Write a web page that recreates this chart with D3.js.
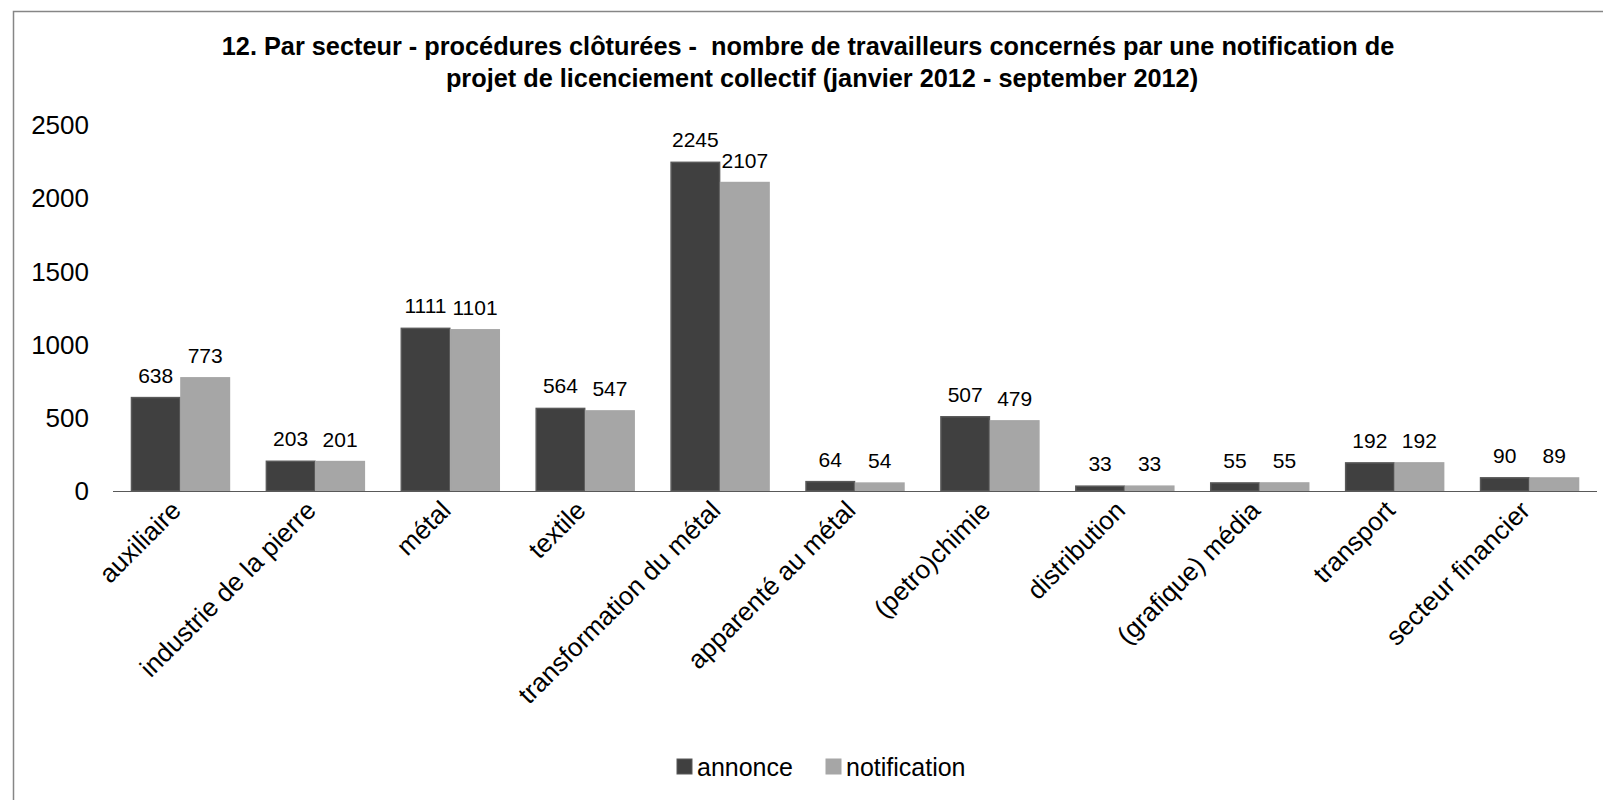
<!DOCTYPE html>
<html>
<head>
<meta charset="utf-8">
<script src="https://cdn.jsdelivr.net/npm/d3@7"></script>
<style>
  body { margin: 0; background: #fff; }
  svg { display: block; font-family: "Liberation Sans", Arial, sans-serif; }
</style>
</head>
<body>
<svg width="1603" height="800"></svg>
<script>
var categories = ["auxiliaire", "industrie de la pierre", "métal", "textile", "transformation du métal",
                  "apparenté au métal", "(petro)chimie", "distribution", "(grafique) média", "transport",
                  "secteur financier"];
var annonce = [638, 203, 1111, 564, 2245, 64, 507, 33, 55, 192, 90];
var notification = [773, 201, 1101, 547, 2107, 54, 479, 33, 55, 192, 89];
var seriesNames = ["annonce", "notification"];
var yTicks = [0, 500, 1000, 1500, 2000, 2500];
var titleLines = ["12. Par secteur - procédures clôturées -  nombre de travailleurs concernés par une notification de",
                  "projet de licenciement collectif (janvier 2012 - september 2012)"];

var colors = {annonce: "#404040", notification: "#a6a6a6"};
var strokes = {annonce: "#595959", notification: "#a6a6a6"};

var svg = d3.select("svg");

// outer frame (right and bottom edges fall off the picture)
svg.append("rect")
    .attr("x", 13.5).attr("y", 11.5)
    .attr("width", 1620).attr("height", 820)
    .attr("fill", "none").attr("stroke", "#868686").attr("stroke-width", 1.5);

var x0 = d3.scaleBand().domain(categories).range([113, 1597]).paddingInner(0).paddingOuter(0);
var x1 = d3.scaleBand().domain(seriesNames).range([0, x0.bandwidth()]).paddingInner(0).paddingOuter(0.363);
var y = d3.scaleLinear().domain([0, 2500]).range([491, 125]);

// title
var titleX = [808, 822];
var title = svg.append("text")
    .attr("text-anchor", "middle")
    .attr("font-weight", "bold")
    .attr("font-size", 25.3)
    .attr("fill", "#000")
    .style("white-space", "pre");
titleLines.forEach(function(t, i) {
    title.append("tspan").attr("x", titleX[i]).attr("y", 55 + i * 32).text(t);
});

// y axis labels
svg.append("g").selectAll("text")
    .data(yTicks)
    .enter().append("text")
    .attr("x", 89)
    .attr("y", function(d) { return y(d); })
    .attr("dy", "0.35em")
    .attr("text-anchor", "end")
    .attr("font-size", 26)
    .text(function(d) { return d; });

var rows = categories.map(function(c, i) {
    return {cat: c, values: [{key: "annonce", v: annonce[i]}, {key: "notification", v: notification[i]}]};
});

var groups = svg.append("g").selectAll("g")
    .data(rows)
    .enter().append("g")
    .attr("transform", function(d) { return "translate(" + x0(d.cat) + ",0)"; });

groups.selectAll("rect")
    .data(function(d) { return d.values; })
    .enter().append("rect")
    .attr("x", function(d) { return x1(d.key) + 0.5; })
    .attr("y", function(d) { return y(d.v); })
    .attr("width", x1.bandwidth() - 1)
    .attr("height", function(d) { return y(0) - y(d.v); })
    .attr("fill", function(d) { return colors[d.key]; })
    .attr("stroke", function(d) { return strokes[d.key]; })
    .attr("stroke-width", 1.5);

groups.selectAll("text")
    .data(function(d) { return d.values; })
    .enter().append("text")
    .attr("x", function(d) { return x1(d.key) + x1.bandwidth() / 2; })
    .attr("y", function(d) { return y(d.v) - 15; })
    .attr("text-anchor", "middle")
    .attr("font-size", 21)
    .text(function(d) { return d.v; });

// x axis baseline
svg.append("line")
    .attr("x1", 113).attr("x2", 1597)
    .attr("y1", y(0) + 0.5).attr("y2", y(0) + 0.5)
    .attr("stroke", "#595959").attr("stroke-width", 1.2);

// category labels
svg.append("g").selectAll("text")
    .data(categories)
    .enter().append("text")
    .attr("transform", function(d) {
        return "translate(" + (x0(d) + x0.bandwidth() / 2 + 2) + ",512) rotate(-45)";
    })
    .attr("text-anchor", "end")
    .attr("font-size", 26)
    .text(function(d) { return d; });

// legend
var legend = svg.append("g");
var legendX = [677, 826];
seriesNames.forEach(function(s, i) {
    legend.append("rect")
        .attr("x", legendX[i]).attr("y", 759)
        .attr("width", 15).attr("height", 15)
        .attr("fill", colors[s])
        .attr("stroke", strokes[s]).attr("stroke-width", 1);
    legend.append("text")
        .attr("x", legendX[i] + 20).attr("y", 776)
        .attr("font-size", 25)
        .text(s);
});
</script>
</body>
</html>
